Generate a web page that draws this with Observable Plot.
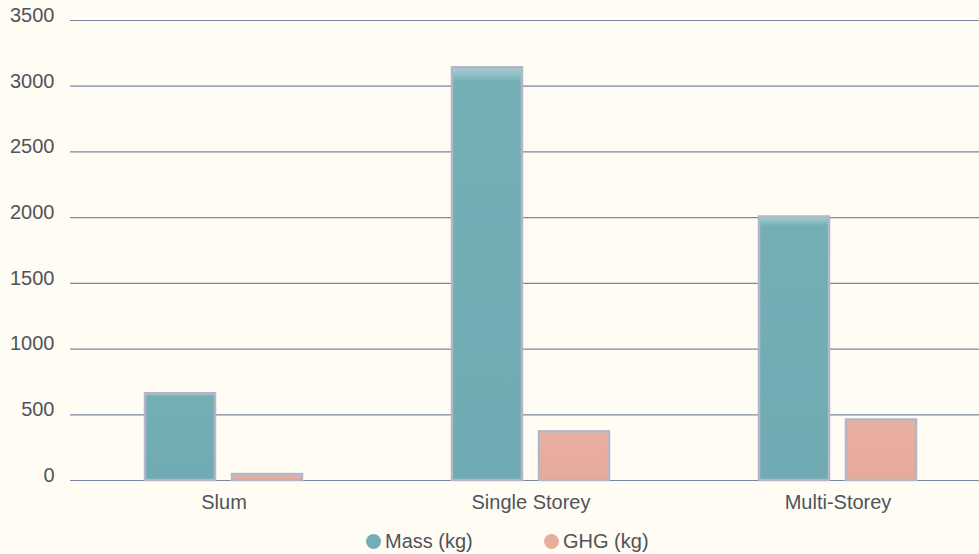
<!DOCTYPE html>
<html>
<head>
<meta charset="utf-8">
<script src="https://cdn.jsdelivr.net/npm/d3@7"></script>
<script src="https://cdn.jsdelivr.net/npm/@observablehq/plot@0.6"></script>
<style>
  html, body { margin: 0; padding: 0; background: #fffcf4; }
  #wrap { position: relative; width: 979px; height: 554px; font-family: "Liberation Sans", Arial, sans-serif; }
  .legend { position: absolute; top: 528px; left: 0; height: 26px; font-size: 20px; color: #50535b; }
  .item { position: absolute; top: 0; white-space: nowrap; line-height: 26px; }
  .dot { display: inline-block; width: 15px; height: 15px; border-radius: 50%; vertical-align: -1px; margin-right: 4px; }
</style>
</head>
<body>
<div id="wrap"></div>
<script>
const categories = ["Slum", "Single Storey", "Multi-Storey"];
const seriesNames = ["Mass (kg)", "GHG (kg)"];
const massKg = [660, 3140, 2005];
const ghgKg = [45, 370, 460];
const yTicks = [0, 500, 1000, 1500, 2000, 2500, 3000, 3500];
const seriesColors = ["#72aeb5", "#e9ad9d"];

const rows = [];
categories.forEach((c, i) => {
  rows.push({category: c, series: seriesNames[0], value: massKg[i]});
  rows.push({category: c, series: seriesNames[1], value: ghgKg[i]});
});

const chart = Plot.plot({
  width: 979,
  height: 520,
  marginTop: 20,
  marginBottom: 40,
  marginLeft: 70,
  marginRight: 0,
  style: {background: "transparent", fontFamily: "Liberation Sans, Arial, sans-serif", fontSize: "20px", color: "#50535b"},
  fx: {domain: categories, range: [70, 991], padding: 0, label: null},
  x: {domain: seriesNames, range: [144.5, 301.5], paddingInner: 17 / 87, paddingOuter: 0, axis: null},
  y: {domain: [0, 3500], ticks: yTicks, label: null},
  marks: [
    Plot.ruleY(yTicks, {stroke: "#7a86a2", strokeWidth: 1.2}),
    Plot.barY(rows.filter(d => d.series === seriesNames[0]), {fx: "category", x: "series", y: "value", fill: "url(#gMass)", stroke: "#b2b6c7", strokeWidth: 2.5}),
    Plot.barY(rows.filter(d => d.series === seriesNames[1]), {fx: "category", x: "series", y: "value", fill: "url(#gGhg)", stroke: "#b2b6c7", strokeWidth: 2.5}),
    Plot.axisY({ticks: yTicks, tickSize: 0, tickFormat: d => String(d), textAnchor: "end", dx: -7, dy: -5, fill: "#50535b", fontSize: 20}),
    Plot.axisFx({anchor: "bottom", tickSize: 0, tickPadding: 14, fill: "#50535b", fontSize: 20, label: null})
  ]
});

const ns = "http://www.w3.org/2000/svg";
const defs = document.createElementNS(ns, "defs");
function grad(id, top, mid, bottom) {
  const g = document.createElementNS(ns, "linearGradient");
  g.setAttribute("id", id);
  g.setAttribute("x1", "0"); g.setAttribute("y1", "0"); g.setAttribute("x2", "0"); g.setAttribute("y2", "1");
  [[0, top], [0.035, mid], [1, bottom]].forEach(([o, c]) => {
    const s = document.createElementNS(ns, "stop");
    s.setAttribute("offset", o);
    s.setAttribute("stop-color", c);
    g.appendChild(s);
  });
  defs.appendChild(g);
}
grad("gMass", "#a9cfd2", "#74afb6", "#70abb3");
grad("gGhg", "#f2cbc0", "#e9af9f", "#e7aa9a");
chart.insertBefore(defs, chart.firstChild);

const wrap = document.getElementById("wrap");
wrap.appendChild(chart);

const legend = document.createElement("div");
legend.className = "legend";
const lefts = [366, 544];
seriesNames.forEach((name, i) => {
  const item = document.createElement("div");
  item.className = "item";
  item.style.left = lefts[i] + "px";
  const dot = document.createElement("span");
  dot.className = "dot";
  dot.style.background = seriesColors[i];
  item.appendChild(dot);
  item.appendChild(document.createTextNode(name));
  legend.appendChild(item);
});
wrap.appendChild(legend);
</script>
</body>
</html>
